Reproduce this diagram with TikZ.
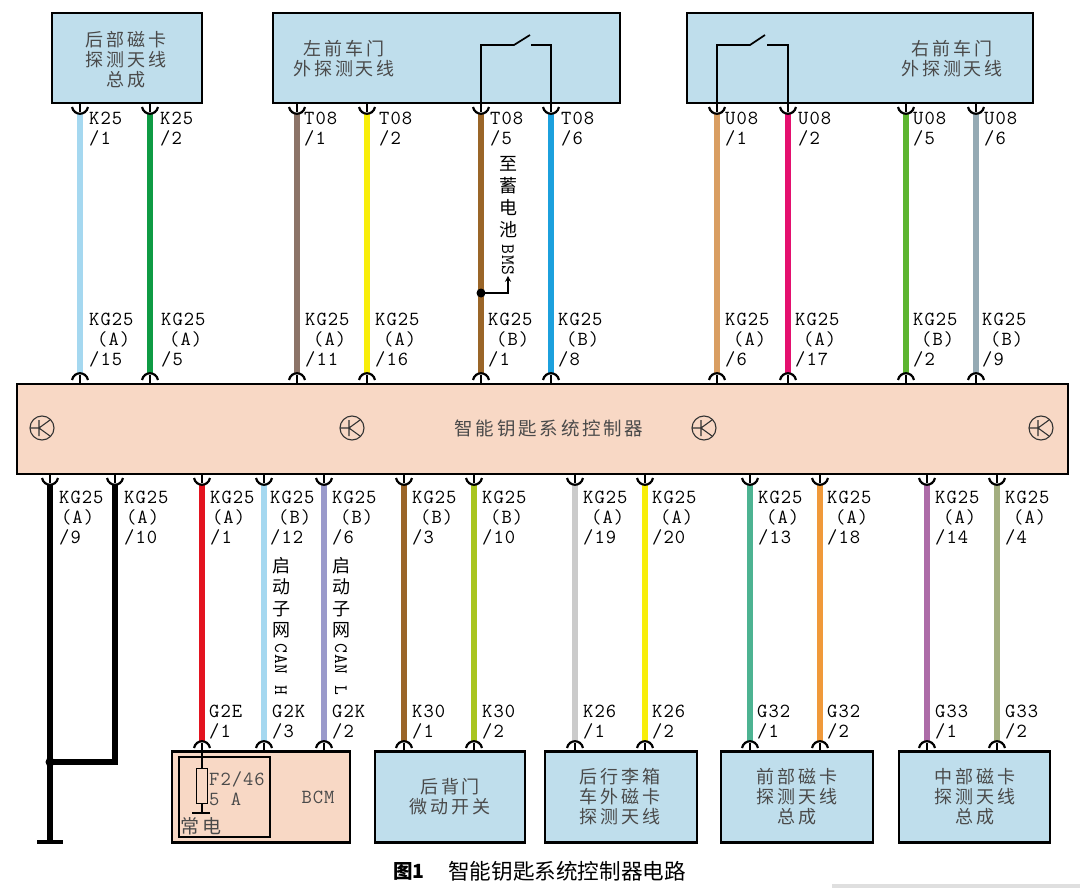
\documentclass[tikz,border=0pt]{standalone}
\usepackage{fontspec}
\setmonofont[LetterSpace=5]{Latin Modern Mono}
\newfontfamily\cjk[LetterSpace=15]{Noto Sans CJK SC}
\newfontfamily\capfont{Noto Sans CJK SC}
\usetikzlibrary{arrows.meta}
\definecolor{boxblue}{HTML}{BFDEEC}
\definecolor{boxpeach}{HTML}{F8D8C5}
\definecolor{inktext}{HTML}{4A4A4A}
\definecolor{wpale}{HTML}{A5D8F0}
\definecolor{wgreen}{HTML}{0F9B44}
\definecolor{wtaupe}{HTML}{8C7468}
\definecolor{wyellow}{HTML}{F8EE0A}
\definecolor{wbrown}{HTML}{9A6528}
\definecolor{wblue}{HTML}{1CA0DD}
\definecolor{wtan}{HTML}{D99E62}
\definecolor{wpink}{HTML}{E4106F}
\definecolor{wlime}{HTML}{5DB530}
\definecolor{wslate}{HTML}{95AAB4}
\definecolor{wred}{HTML}{E3131F}
\definecolor{wviolet}{HTML}{9A9ACB}
\definecolor{wolive}{HTML}{A9C520}
\definecolor{wsilver}{HTML}{CBCBCB}
\definecolor{wteal}{HTML}{4DB392}
\definecolor{worange}{HTML}{F0993A}
\definecolor{wplum}{HTML}{AD6CA8}
\definecolor{wsage}{HTML}{A3AE80}
\newcommand{\kgtext}[3]{KG25\\\hspace*{#1pt}(#2)\\/#3}
\newcommand{\vtext}{\fontsize{19}{19}\selectfont\ttfamily}
\tikzset{
  unitbox/.style={draw=black,line width=2.5pt,fill=boxblue,inner sep=0pt,outer sep=0pt},
  ecubox/.style={unitbox,fill=boxpeach},
  unittext/.style={font=\fontsize{18}{20}\selectfont\cjk,text=inktext,align=center,inner sep=0pt},
  pinlabel/.style={font=\fontsize{20}{20}\selectfont\ttfamily,text=black,align=left,anchor=north west,inner sep=0pt},
  vlabel/.style={font=\fontsize{18}{21.5}\selectfont\capfont,text=black,align=center,anchor=north,inner sep=0pt},
  wire/.style={line width=6.5pt},
  heavywire/.style={line width=5.5pt,black},
  wirecup/.pic={
    \draw[line width=1.6pt] (0,0) -- (0,9);
    \draw[line width=2.2pt] (-8,4) .. controls (-6,13) and (6,13) .. (8,4);
  },
  trans/.pic={
    \draw[line width=1.1pt,black!80] (0,0) circle (12);
    \draw[line width=1.1pt,black!80] (-12,0) -- (-3,0) (-3,-8) -- (-3,8) (-3,0) -- (8,-8) (-3,0) -- (8,8);
  }
}
\begin{document}
\begin{tikzpicture}[x=1pt,y=-1pt]
  \useasboundingbox (0,0) rectangle (1080,888);
  \fill[gray!25] (832,884) rectangle (1080,888);
  % upper units
  \node[unitbox,minimum width=150pt,minimum height=90pt] (rearant) at (127,58) {};
  \node[unitbox,minimum width=347pt,minimum height=90pt] (leftdoor) at (446.5,58) {};
  \node[unitbox,minimum width=346pt,minimum height=90pt] (rightdoor) at (860,58) {};
  \node[unittext] (reartext) at (126,60) {后部磁卡\\探测天线\\总成};
  \node[unittext] (lefttext) at (344,59) {左前车门\\外探测天线};
  \node[unittext] (righttext) at (952,59) {右前车门\\外探测天线};
  % controller
  \node[ecubox,line width=2pt,minimum width=1051pt,minimum height=90pt] (ecu) at (42.5+500,428.5) {};
  \node[unittext,font=\fontsize{18.5}{20}\selectfont\cjk] (ecutext) at (549,428) {智能钥匙系统控制器};
  \foreach \ix/\tx in {a/42,b/352,c/704,d/1041}
    \pic (trans\ix) at (\tx,428) {trans};
  % lower units
  \node[ecubox,minimum width=178pt,minimum height=91pt] (bcm) at (261,797) {};
  \node[unitbox,minimum width=150pt,minimum height=91pt] (tailsw) at (450,797) {};
  \node[unitbox,minimum width=152pt,minimum height=91pt] (bootant) at (621,797) {};
  \node[unitbox,minimum width=152pt,minimum height=91pt] (frontant) at (797,797) {};
  \node[unitbox,minimum width=151pt,minimum height=91pt] (midant) at (974.5,797) {};
  \node[unittext] (tailtext) at (450,797) {后背门\\微动开关};
  \node[unittext] (boottext) at (620,797) {后行李箱\\车外磁卡\\探测天线};
  \node[unittext] (fronttext) at (797,797) {前部磁卡\\探测天线\\总成};
  \node[unittext] (midtext) at (975,797) {中部磁卡\\探测天线\\总成};
  % upper wires
  \foreach \wx/\wcol/\ux/\utext/\lx/\ltext in {
    80/wpale/89/{K25\\/1}/89/{\kgtext{8}{A}{15}},
    150/wgreen/160/{K25\\/2}/161/{\kgtext{8}{A}{5}},
    297/wtaupe/304/{T08\\/1}/305/{\kgtext{8}{A}{11}},
    367/wyellow/379/{T08\\/2}/375/{\kgtext{8}{A}{16}},
    481/wbrown/490/{T08\\/5}/488/{\kgtext{8}{B}{1}},
    551/wblue/561/{T08\\/6}/558/{\kgtext{8}{B}{8}},
    717/wtan/725/{U08\\/1}/725/{\kgtext{8}{A}{6}},
    788/wpink/798/{U08\\/2}/795/{\kgtext{8}{A}{17}},
    906/wlime/913/{U08\\/5}/913/{\kgtext{8}{B}{2}},
    976/wslate/984/{U08\\/6}/982/{\kgtext{8}{B}{9}}} {
    \coordinate (up\wx) at (\wx,113);
    \coordinate (dn\wx) at (\wx,374);
    \draw[wire,\wcol] (up\wx) -- (dn\wx);
    \pic at (\wx,103) {wirecup};
    \pic[yscale=-1] at (\wx,384) {wirecup};
    \node[pinlabel] (ulab\wx) at (\ux,112) {\utext};
    \node[pinlabel] (llab\wx) at (\lx,313) {\ltext};
  }
  % lower wires
  \foreach \wx/\wcol/\ux/\utext/\lx/\ltext in {
    202/wred/210/{\kgtext{2}{A}{1}}/209/{G2E\\/1},
    264/wpale/270/{\kgtext{8}{B}{12}}/272/{G2K\\/3},
    324/wviolet/332/{\kgtext{8}{B}{6}}/332/{G2K\\/2},
    404/wbrown/412/{\kgtext{8}{B}{3}}/412/{K30\\/1},
    474/wolive/482/{\kgtext{8}{B}{10}}/482/{K30\\/2},
    575/wsilver/583/{\kgtext{8}{A}{19}}/583/{K26\\/1},
    645/wyellow/652/{\kgtext{8}{A}{20}}/652/{K26\\/2},
    750/wteal/758/{\kgtext{8}{A}{13}}/757/{G32\\/1},
    820/worange/827/{\kgtext{8}{A}{18}}/827/{G32\\/2},
    927/wplum/935/{\kgtext{8}{A}{14}}/935/{G33\\/1},
    997/wsage/1005/{\kgtext{8}{A}{4}}/1005/{G33\\/2}} {
    \coordinate (up\wx) at (\wx,484);
    \coordinate (dn\wx) at (\wx,742);
    \draw[wire,\wcol] (up\wx) -- (dn\wx);
    \pic at (\wx,474) {wirecup};
    \pic[yscale=-1] at (\wx,752) {wirecup};
    \node[pinlabel] (ulab\wx) at (\ux,491) {\utext};
    \node[pinlabel] (llab\wx) at (\lx,705) {\ltext};
  }
  % black wires and earth
  \coordinate (gnd) at (50,842);
  \coordinate (tee) at (50,762);
  \coordinate (up50) at (50,484);
  \coordinate (up115) at (115,484);
  \draw[heavywire] (up50) -- (gnd);
  \draw[heavywire] (up115) |- (tee);
  \fill (tee) circle (4.5);
  \draw[line width=3.5pt] (37,842) -- (63,842);
  \pic at (50,474) {wirecup};
  \pic at (115,474) {wirecup};
  \node[pinlabel] (ulab50) at (59,491) {\kgtext{2}{A}{9}};
  \node[pinlabel] (ulab115) at (124,491) {\kgtext{2}{A}{10}};
  % switches
  \draw[line width=1.7pt] (dn481 |- leftdoor.south) |- (514,45) -- (530,35);
  \draw[line width=1.7pt] (531,45) -| (dn551 |- leftdoor.south);
  \draw[line width=1.7pt] (dn717 |- rightdoor.south) |- (750,45) -- (765,35);
  \draw[line width=1.7pt] (767,45) -| (dn788 |- rightdoor.south);
  % BMS branch
  \coordinate (bmsdot) at (481,293);
  \fill (bmsdot) circle (4.5);
  \node[vlabel,font=\fontsize{18}{22}\selectfont\capfont] (bmstext) at (508,156) {至\\蓄\\电\\池\\[-14pt]\rotatebox{-90}{\vtext BMS}};
  \draw[line width=1.8pt,-{Stealth[length=6pt,width=6pt]}] (bmsdot) -| (bmstext.south);
  % CAN labels
  \node[vlabel] (canh) at (281,557) {启\\动\\子\\网\\[-15pt]\rotatebox{-90}{\vtext CAN H}};
  \node[vlabel] (canl) at (341,557) {启\\动\\子\\网\\[-15pt]\rotatebox{-90}{\vtext CAN L}};
  % BCM inside
  \node[draw=black,line width=1.8pt,minimum width=91pt,minimum height=80pt,inner sep=0pt] (inner) at (224.5,797) {};
  \node[draw=black,line width=1.6pt,minimum width=11pt,minimum height=35pt,inner sep=0pt] (fuse) at (202,786) {};
  \coordinate (fusegnd) at (202,813);
  \draw[line width=1.5pt] (dn202 |- bcm.north) -- (fuse.north);
  \draw[line width=1.5pt] (fuse.south) -- (fusegnd);
  \draw[line width=2pt] (192,813) -- (210,813);
  \node[pinlabel,text=inktext] (fusetext) at (209,771) {F2/46\\5 A};
  \node[unittext,font=\fontsize{19}{20}\selectfont\cjk,anchor=west] (bcmmain) at (180,826) {常电};
  \node[pinlabel,text=inktext,anchor=center] (bcmtext) at (318,797) {BCM};
  % caption
  \node[font=\fontsize{19.5}{20}\selectfont\capfont\bfseries,anchor=west,inner sep=0pt] (figno) at (393,871) {图1};
  \node[font=\fontsize{21.6}{22}\selectfont\capfont,anchor=west,inner sep=0pt] (figcap) at (448,871) {智能钥匙系统控制器电路};
\end{tikzpicture}
\end{document}
